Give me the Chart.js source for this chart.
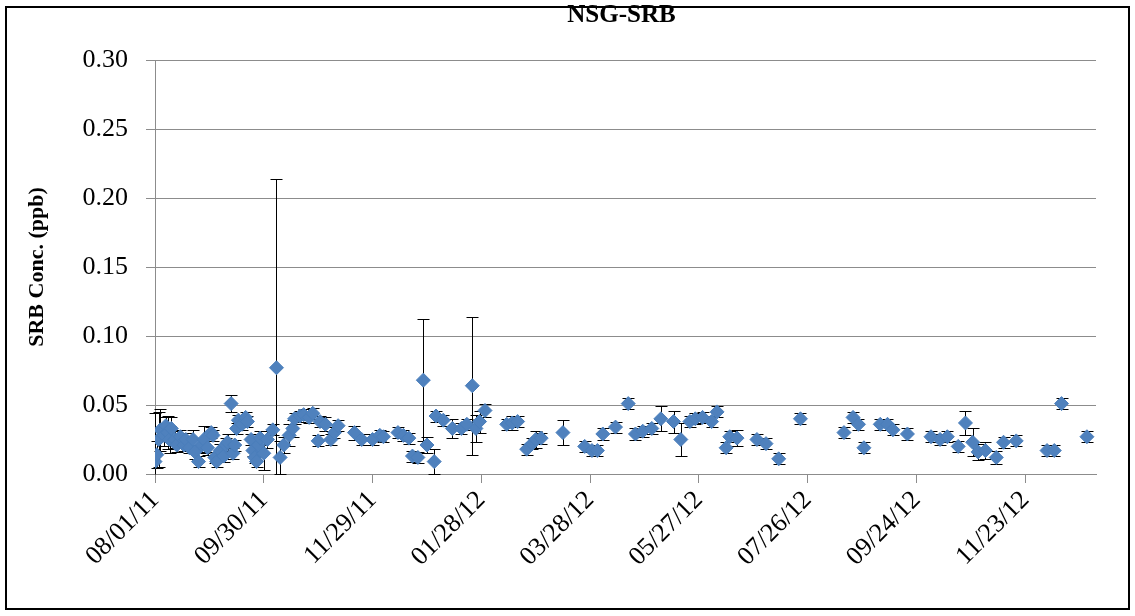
<!DOCTYPE html>
<html>
<head>
<meta charset="utf-8">
<title>NSG-SRB</title>
<script src="https://cdn.jsdelivr.net/npm/chart.js@4.4.1/dist/chart.umd.min.js"></script>
<style>
    html, body { margin: 0; padding: 0; background: #fff; }
    #wrap { width: 1135px; height: 616px; }
</style>
</head>
<body>
<div id="wrap"><canvas id="srbChart" width="1135" height="616"></canvas></div>
<script>
// NSG-SRB sample record. Days are counted from 08/01/11, concentrations in ppb.
const chartTitle = 'NSG-SRB';
const yAxisTitle = 'SRB Conc. (ppb)';

const xTickLabels = ['08/01/11', '09/30/11', '11/29/11', '01/28/12', '03/28/12',
    '05/27/12', '07/26/12', '09/24/12', '11/23/12'];

const sampleDays = [
    0, 1, 2, 3, 5, 6, 7, 8, 9, 11, 12, 14, 16, 17, 19, 21, 22, 24, 26, 27,
    29, 31, 32, 33, 34, 36, 38, 39, 40, 42, 43, 44, 45, 46, 48, 50, 51, 53, 54, 55,
    56, 57, 58, 60, 62, 65, 67, 69, 71, 74, 76, 77, 80, 82, 85, 87, 90, 91, 94, 97,
    99, 101, 110, 114, 120, 124, 126, 134, 137, 140, 142, 145, 148, 150, 154, 155, 159, 164, 169, 172,
    175, 177, 179, 182, 194, 197, 200, 205, 208, 210, 213, 225, 237, 241, 244, 247, 254, 261, 265, 269,
    274, 279, 286, 290, 295, 298, 302, 307, 310, 315, 317, 321, 332, 337, 344, 356, 380, 385, 388, 391,
    400, 404, 407, 415, 428, 433, 437, 443, 447, 451, 454, 458, 464, 468, 475, 492, 496, 500, 514
];

const srbConc = [
    0.009, 0.014, 0.025, 0.032, 0.028, 0.035, 0.030, 0.025, 0.033, 0.025, 0.021, 0.027, 0.021, 0.025, 0.019, 0.025, 0.016, 0.009, 0.021, 0.025,
    0.019, 0.030, 0.028, 0.012, 0.009, 0.017, 0.013, 0.021, 0.023, 0.051, 0.015, 0.021, 0.033, 0.039, 0.036, 0.041, 0.038, 0.025, 0.017, 0.012,
    0.009, 0.021, 0.026, 0.015, 0.025, 0.032, 0.077, 0.012, 0.021, 0.028, 0.033, 0.040, 0.042, 0.043, 0.041, 0.044, 0.024, 0.038, 0.036, 0.025,
    0.030, 0.035, 0.030, 0.025, 0.025, 0.028, 0.027, 0.030, 0.028, 0.026, 0.013, 0.012, 0.068, 0.021, 0.009, 0.042, 0.039, 0.033, 0.033, 0.036,
    0.064, 0.033, 0.038, 0.046, 0.036, 0.037, 0.038, 0.018, 0.022, 0.025, 0.026, 0.030, 0.020, 0.017, 0.017, 0.029, 0.034, 0.051, 0.029, 0.031,
    0.033, 0.040, 0.038, 0.025, 0.038, 0.040, 0.041, 0.038, 0.045, 0.019, 0.027, 0.026, 0.025, 0.022, 0.011, 0.040, 0.030, 0.041, 0.036, 0.019,
    0.036, 0.036, 0.032, 0.029, 0.027, 0.025, 0.027, 0.020, 0.037, 0.023, 0.016, 0.017, 0.012, 0.023, 0.024, 0.017, 0.017, 0.051, 0.027
];

// +/- error for each sample
const srbErr = [
    0.035, 0.010, 0.020, 0.015, 0.008, 0.006, 0.012, 0.010, 0.008, 0.006, 0.005, 0.005, 0.004, 0.005, 0.004, 0.007, 0.005, 0.004, 0.005, 0.010,
    0.005, 0.004, 0.004, 0.004, 0.004, 0.005, 0.004, 0.005, 0.006, 0.006, 0.004, 0.004, 0.004, 0.004, 0.004, 0.004, 0.004, 0.004, 0.004, 0.004,
    0.004, 0.004, 0.005, 0.012, 0.006, 0.004, 0.137, 0.012, 0.006, 0.008, 0.006, 0.004, 0.004, 0.004, 0.004, 0.004, 0.004, 0.004, 0.005, 0.004,
    0.004, 0.004, 0.005, 0.004, 0.004, 0.004, 0.004, 0.004, 0.004, 0.004, 0.004, 0.004, 0.044, 0.006, 0.009, 0.004, 0.004, 0.007, 0.004, 0.004,
    0.050, 0.010, 0.008, 0.005, 0.004, 0.005, 0.004, 0.004, 0.004, 0.006, 0.004, 0.009, 0.004, 0.004, 0.004, 0.004, 0.004, 0.004, 0.004, 0.004,
    0.004, 0.009, 0.008, 0.012, 0.004, 0.004, 0.004, 0.004, 0.004, 0.004, 0.004, 0.006, 0.004, 0.004, 0.004, 0.004, 0.004, 0.004, 0.004, 0.004,
    0.004, 0.004, 0.004, 0.004, 0.004, 0.004, 0.004, 0.004, 0.009, 0.010, 0.006, 0.006, 0.005, 0.004, 0.004, 0.004, 0.004, 0.004, 0.004
];

const serif = "'Liberation Serif', 'Times New Roman', serif";
const gridGray = '#8c8c8c';

// vertical error bars with caps, drawn under the markers
const errorBarPlugin = {
    id: 'errorBars',
    beforeDatasetsDraw(chart) {
        const { ctx, scales: { x, y } } = chart;
        ctx.save();
        ctx.strokeStyle = '#000';
        ctx.lineWidth = 1;
        sampleDays.forEach((d, i) => {
            const hi = srbConc[i] + srbErr[i];
            const lo = srbConc[i] - srbErr[i];
            const px = Math.round(x.getPixelForValue(d)) + 0.5;
            const yHi = Math.round(y.getPixelForValue(Math.min(hi, 0.3))) + 0.5;
            const yLo = Math.round(y.getPixelForValue(Math.max(lo, 0))) + 0.5;
            ctx.beginPath();
            ctx.moveTo(px, yHi);
            ctx.lineTo(px, yLo);
            if (hi <= 0.3) { ctx.moveTo(px - 6, yHi); ctx.lineTo(px + 6, yHi); }
            if (lo >= 0) { ctx.moveTo(px - 6, yLo); ctx.lineTo(px + 6, yLo); }
            ctx.stroke();
        });
        ctx.restore();
    }
};

// chart title centred over the plot area, plus the outer frame
const frameTitlePlugin = {
    id: 'frameTitle',
    afterDraw(chart) {
        const { ctx, chartArea } = chart;
        ctx.save();
        ctx.fillStyle = '#000';
        ctx.font = `bold 25px ${serif}`;
        ctx.textAlign = 'center';
        ctx.textBaseline = 'middle';
        ctx.fillText(chartTitle, (chartArea.left + chartArea.right) / 2 - 4, 16);
        ctx.strokeStyle = '#000';
        ctx.lineWidth = 2;
        ctx.strokeRect(6, 7, 1123, 602);
        ctx.restore();
    }
};

const points = sampleDays.map((d, i) => ({ x: d, y: srbConc[i] }));

new Chart(document.getElementById('srbChart').getContext('2d'), {
    type: 'scatter',
    data: {
        datasets: [{
            label: chartTitle,
            data: points,
            pointStyle: 'rectRot',
            pointRadius: 7,
            pointHoverRadius: 7,
            backgroundColor: '#4F81BD',
            borderColor: '#4A7EBB',
            borderWidth: 1
        }]
    },
    options: {
        responsive: false,
        animation: false,
        events: [],
        layout: { padding: { top: 60, right: 39, left: 0, bottom: 0 } },
        plugins: {
            legend: { display: false },
            tooltip: { enabled: false },
            title: { display: false }
        },
        scales: {
            x: {
                type: 'linear',
                min: 0,
                max: 519,
                afterFit: (scale) => { scale.height = 142; },
                ticks: {
                    stepSize: 60,
                    includeBounds: false,
                    autoSkip: false,
                    maxRotation: 45,
                    minRotation: 45,
                    padding: 2,
                    color: '#000',
                    font: { family: serif, size: 26 },
                    callback: (value, index) => xTickLabels[index]
                },
                grid: { drawOnChartArea: false, drawTicks: true, tickLength: 9, color: gridGray },
                border: { display: true, color: gridGray }
            },
            y: {
                min: 0,
                max: 0.3,
                afterFit: (scale) => { scale.width = 155; },
                ticks: {
                    stepSize: 0.05,
                    padding: 18,
                    color: '#000',
                    font: { family: serif, size: 26 },
                    callback: (value) => value.toFixed(2)
                },
                grid: { color: gridGray, tickLength: 9 },
                border: { display: true, color: gridGray },
                title: {
                    display: true,
                    text: yAxisTitle,
                    color: '#000',
                    font: { family: serif, size: 22, weight: 'bold' },
                    padding: { top: 24, bottom: 0 }
                }
            }
        }
    },
    plugins: [errorBarPlugin, frameTitlePlugin]
});
</script>
</body>
</html>
